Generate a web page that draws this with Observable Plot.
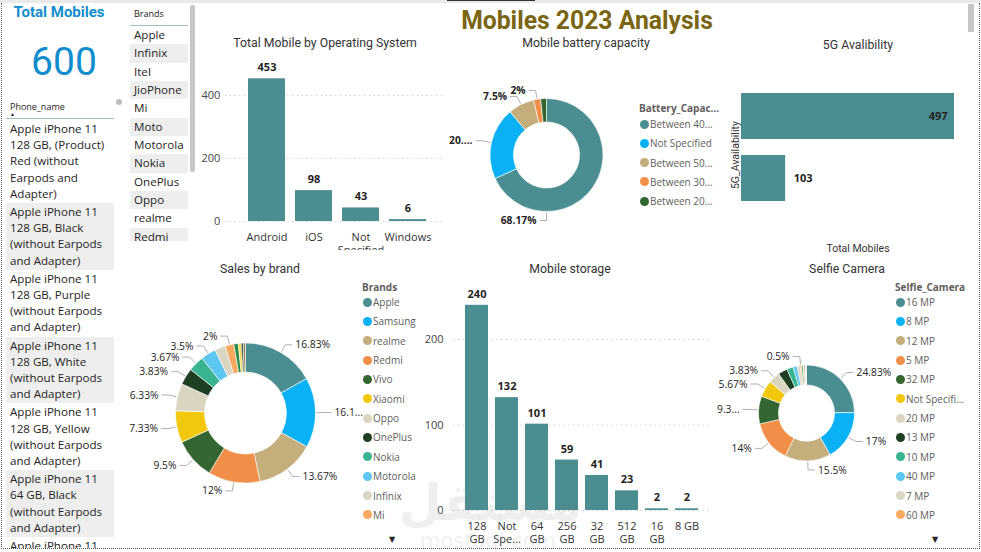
<!DOCTYPE html>
<html><head><meta charset="utf-8">
<script src="https://cdn.jsdelivr.net/npm/d3@7"></script>
<script src="https://cdn.jsdelivr.net/npm/@observablehq/plot@0.6"></script>
<style>
html,body{margin:0;padding:0;background:#fff;}
#page{position:relative;width:981px;height:552px;overflow:hidden;background:#fff;}
#page svg{background:transparent !important;overflow:visible;}
</style></head>
<body><div id="page"></div>
<script>
// ---------------- DATA ----------------
const totalMobiles = 600;
const phoneNames = [
  "Apple iPhone 11 128 GB, (Product) Red (without Earpods and Adapter)",
  "Apple iPhone 11 128 GB, Black (without Earpods and Adapter)",
  "Apple iPhone 11 128 GB, Purple (without Earpods and Adapter)",
  "Apple iPhone 11 128 GB, White (without Earpods and Adapter)",
  "Apple iPhone 11 128 GB, Yellow (without Earpods and Adapter)",
  "Apple iPhone 11 64 GB, Black (without Earpods and Adapter)",
  "Apple iPhone 11 64 GB, Purple (without Earpods and Adapter)"
];
const slicerBrands = ["Apple","Infinix","Itel","JioPhone","Mi","Moto","Motorola","Nokia","OnePlus","Oppo","realme","Redmi","Samsung"];

const osNames = ["Android","iOS","Not Specified","Windows"];
const osTickLabels = ["Android","iOS","Not\nSpecified","Windows"];
const osCounts = [453, 98, 43, 6];

const batteryNames = ["Between 4000-4999 mAh","Not Specified","Between 5000-5999 mAh","Between 3000-3999 mAh","Between 2000-2999 mAh"];
const batteryCounts = [409, 124, 45, 12, 10];
const batteryLabelled = ["Between 4000-4999 mAh","Not Specified","Between 5000-5999 mAh","Between 3000-3999 mAh"];

const g5Names = ["Yes","No"];
const g5Counts = [497, 103];

const brandNames = ["Apple","Samsung","realme","Redmi","Vivo","Xiaomi","Oppo","OnePlus","Nokia","Motorola","Infinix","Mi","Moto","Tecno","Itel","JioPhone"];
const brandCounts = [101, 97, 82, 72, 57, 44, 38, 23, 22, 21, 15, 12, 6, 4, 3, 3];
const brandLabelled = ["Apple","Samsung","realme","Redmi","Vivo","Xiaomi","Oppo","OnePlus","Nokia","Motorola","Mi"];

const storageNames = ["128 GB","Not Specified","64 GB","256 GB","32 GB","512 GB","16 GB","8 GB"];
const storageTickLabels = ["128\nGB","Not\nSpe...","64\nGB","256\nGB","32\nGB","512\nGB","16\nGB","8 GB"];
const storageCounts = [240, 132, 101, 59, 41, 23, 2, 2];

const selfieNames = ["16 MP","8 MP","12 MP","5 MP","32 MP","Not Specified","20 MP","13 MP","10 MP","40 MP","7 MP","60 MP","48 MP","2 MP","24 MP","44 MP","25 MP","50 MP"];
const selfieCounts = [149, 102, 93, 84, 56, 34, 23, 19, 13, 8, 6, 3, 3, 2, 2, 1, 1, 1];
const selfieLabelled = ["16 MP","8 MP","12 MP","5 MP","32 MP","Not Specified","20 MP","60 MP"];

const palette = ["#4A8E92","#0AB2F5","#C4AF7C","#F18F49","#336630","#F2C80F","#D9D5C1","#1F3F23","#38B490","#5CC7F0","#DAD6C4","#F9A85F","#28894A","#F5D84A","#2E4B30","#8E7E52","#A1D6E8","#E46E3C"];
const barColor = "#4A8E92";

// ---------------- HELPERS ----------------
const SEGOE = '"Segoe UI","Open Sans",sans-serif';
const DIN = '"DIN",Roboto,sans-serif';
const page = document.getElementById("page");
const ctx = document.createElement("canvas").getContext("2d");
function fit(text, font, maxW) {
  ctx.font = font;
  if (ctx.measureText(text).width <= maxW) return text;
  let s = text;
  while (s.length > 1 && ctx.measureText(s + "...").width > maxW) s = s.slice(0, -1);
  return s + "...";
}
function div(style, text, parent = page) {
  const e = document.createElement("div");
  Object.assign(e.style, {position: "absolute"}, style);
  if (text != null) e.textContent = text;
  parent.appendChild(e);
  return e;
}
function txt(text, x, y, {font = SEGOE, size = 12, weight = "normal", color = "#252423", anchor = "middle", extra = {}} = {}) {
  return div(Object.assign({left: x + "px", top: y + "px", whiteSpace: "nowrap", fontFamily: font, fontSize: size + "px",
    fontWeight: weight, color, lineHeight: "1",
    transform: anchor === "middle" ? "translate(-50%,-50%)" : anchor === "end" ? "translate(-100%,-50%)" : "translate(0,-50%)"}, extra), text);
}
function placeSvg(node, left, top, clipH) {
  const d = div({left: left + "px", top: top + "px"});
  if (clipH) { d.style.height = clipH + "px"; d.style.overflow = "hidden"; }
  d.appendChild(node);
  return d;
}
const plotStyle = {background: "transparent", fontFamily: SEGOE, fontSize: "11px", color: "#444", overflow: "visible"};

// ---------------- FRAME ----------------
div({left: "0px", top: "0px", width: "981px", height: "3px", background: "#e9e9e9"});
div({left: "447px", top: "0px", width: "88px", height: "1px", background: "#333"});
div({left: "1px", top: "3px", width: "977px", height: "545px", borderLeft: "1px dotted #555", borderRight: "1px dotted #555", borderBottom: "1px dotted #555"});
div({left: "968px", top: "4px", width: "6px", height: "28px", background: "#c8c6c4"});

// ---------------- CARD ----------------
txt("Total Mobiles", 59, 12, {font: DIN, size: 15, weight: "bold", color: "#118DCE"});
txt(String(totalMobiles), 64, 62, {font: DIN, size: 39, color: "#118DCE"});

// ---------------- PHONE TABLE ----------------
txt("Phone_name", 10, 106, {size: 9, anchor: "start", color: "#252423"});
txt("▲", 10, 114, {size: 5, anchor: "start", color: "#252423"});
div({left: "116px", top: "99px", width: "6px", height: "6px", borderRadius: "50%", background: "#bdbdbd"});
div({left: "6px", top: "118px", width: "108px", height: "1px", background: "#9dbfc5"});
const table = div({left: "6px", top: "120px", width: "108px", height: "428px", overflow: "hidden"});
phoneNames.forEach((n, i) => {
  const r = document.createElement("div");
  Object.assign(r.style, {background: i % 2 ? "#EEEEEE" : "transparent", padding: "1px 4px 1px 4px", fontSize: "11.6px",
    lineHeight: "16.2px", color: "#252423", fontFamily: SEGOE});
  r.textContent = n;
  table.appendChild(r);
});

// ---------------- BRAND SLICER ----------------
txt("Brands", 134, 13, {size: 9, anchor: "start"});
div({left: "130px", top: "25px", width: "58px", height: "1px", background: "#9dbfc5"});
const slicer = div({left: "130px", top: "26px", width: "58px", height: "215px", overflow: "hidden"});
slicerBrands.forEach((n, i) => {
  const r = document.createElement("div");
  Object.assign(r.style, {background: i % 2 ? "#EEEEEE" : "transparent", paddingLeft: "4px", height: "18.35px", lineHeight: "18.35px",
    fontSize: "11.6px", color: "#252423", fontFamily: SEGOE, whiteSpace: "nowrap"});
  r.textContent = n;
  slicer.appendChild(r);
});
div({left: "190px", top: "5px", width: "5px", height: "167px", background: "#c8c6c4", borderRadius: "2px"});

// ---------------- TITLES ----------------
txt("Mobiles 2023 Analysis", 587, 20, {font: DIN, size: 26, weight: "bold", color: "#7A6512",
  extra: {transform: "translate(-50%,-50%) scaleX(0.95)"}});
const titleOpts = {font: DIN, size: 12.3, color: "#333"};
txt("Total Mobile by Operating System", 325, 43, titleOpts);
txt("Mobile battery capacity", 586, 43, titleOpts);
txt("5G Avalibility", 858, 45, titleOpts);
txt("Sales by brand", 260, 269, titleOpts);
txt("Mobile storage", 570, 269, titleOpts);
txt("Selfie Camera", 847, 269, titleOpts);

// ---------------- VERTICAL BAR CHART ----------------
function columnChart({names, ticks, counts, left, top, width, height, mL, mR, mT, mB, yMax, yTicks, pad, gridL, gridR, tickPadding, clipH}) {
  const data = names.map((name, i) => ({name, count: counts[i], tick: ticks[i]}));
  const p = Plot.plot({
    width, height, marginLeft: mL, marginRight: mR, marginTop: mT, marginBottom: mB,
    style: plotStyle,
    x: {domain: names, paddingInner: 0.22, paddingOuter: pad, axis: null},
    y: {domain: [0, yMax], ticks: yTicks, tickSize: 0, tickPadding, label: null},
    marks: [
      Plot.ruleY(yTicks, {stroke: "#c8c8c8", strokeDasharray: "1.2,3.6", insetLeft: -gridL, insetRight: -gridR}),
      Plot.barY(data, {x: "name", y: "count", fill: barColor}),
      Plot.text(data, {x: "name", y: "count", text: d => String(d.count), dy: -11, fontWeight: "bold", fontSize: 11, fill: "#252423"}),
      Plot.text(data, {x: "name", y: 0, text: "tick", dy: 10, lineAnchor: "top", lineHeight: 1.18, fontSize: 11, fill: "#333"})
    ]
  });
  placeSvg(p, left, top, clipH);
}
columnChart({names: osNames, ticks: osTickLabels, counts: osCounts, left: 200, top: 50, width: 250, height: 205,
  mL: 41.8, mR: 18.2, mT: 13.5, mB: 34, yMax: 500, yTicks: [0, 200, 400], pad: 0.11, gridL: 17, gridR: 13, tickPadding: 22, clipH: 200});
columnChart({names: storageNames, ticks: storageTickLabels, counts: storageCounts, left: 420, top: 280, width: 295, height: 270,
  mL: 42, mR: 13, mT: 7.7, mB: 40, yMax: 260, yTicks: [0, 100, 200], pad: 0.1, gridL: 9, gridR: 8, tickPadding: 19});

// ---------------- 5G HORIZONTAL BARS ----------------
{
  const data = g5Names.map((name, i) => ({name, count: g5Counts[i]}));
  const max = d3.max(g5Counts);
  const p = Plot.plot({
    width: 250, height: 205, marginLeft: 16, marginRight: 21, marginTop: 25.6, marginBottom: 45.4,
    style: plotStyle,
    x: {domain: [0, max], axis: null},
    y: {domain: g5Names, paddingInner: 0.254, paddingOuter: 0.2, axis: null},
    marks: [
      Plot.barX(data, {x: "count", y: "name", fill: barColor}),
      Plot.text(data.filter(d => d.count > max / 2), {x: "count", y: "name", text: d => String(d.count), textAnchor: "end", dx: -7, fontWeight: "bold", fontSize: 11, fill: "#252423"}),
      Plot.text(data.filter(d => d.count <= max / 2), {x: "count", y: "name", text: d => String(d.count), textAnchor: "start", dx: 8, fontWeight: "bold", fontSize: 11, fill: "#252423"}),
      Plot.text(["5G_Availability"], {frameAnchor: "left", textAnchor: "middle", text: d => d, rotate: -90, dx: -6, dy: 7, fontSize: 10.5, fill: "#333", fontFamily: DIN}),
      Plot.text(["Total Mobiles"], {frameAnchor: "bottom", textAnchor: "middle", text: d => d, dx: 10, dy: 37, fontSize: 10.5, fill: "#333", fontFamily: DIN})
    ]
  });
  placeSvg(p, 725, 55);
}

// ---------------- DONUTS ----------------
const LABEL_SIZE = 10.3;
function donutChart({names, counts, labelled, left, top, width, height, cx, cy, rOuter, labelWeight, minX, maxX}) {
  const rInner = rOuter * 0.585;
  const color = Plot.scale({color: {type: "ordinal", domain: names, range: palette}});
  const data = names.map((name, i) => ({name, count: counts[i], shown: labelled.includes(name)}));
  const total = d3.sum(counts);
  const fmt = v => (+(v / total * 100).toFixed(2)).toString() + "%";
  const render = () => {
    const g = d3.create("svg:g");
    const arcs = d3.pie().sort(null).value(d => d.count)(data);
    const arcGen = d3.arc().innerRadius(rInner).outerRadius(rOuter);
    g.append("g").attr("transform", `translate(${cx},${cy})`)
      .selectAll("path").data(arcs).join("path")
      .attr("d", arcGen).attr("fill", d => color.apply(d.data.name))
      .attr("stroke", "#fff").attr("stroke-width", 0.6);
    const font = `${labelWeight} ${LABEL_SIZE}px ${SEGOE}`;
    const place = (ang, side) => {
      const p0 = [cx + (rOuter + 1) * Math.sin(ang), cy - (rOuter + 1) * Math.cos(ang)];
      const p1 = [cx + (rOuter + 9) * Math.sin(ang), cy - (rOuter + 9) * Math.cos(ang)];
      const p2 = [p1[0] + side * 7, p1[1]];
      return {p0, p1, p2, tx: p2[0] + side * 3};
    };
    for (const a of arcs) {
      if (!a.data.shown) continue;
      let ang = (a.startAngle + a.endAngle) / 2;
      let side = ang < Math.PI ? 1 : -1;
      let P = place(ang, side);
      let label = fmt(a.data.count);
      ctx.font = font;
      const w = ctx.measureText(label).width;
      if (side === 1 && P.tx + w > maxX && a.startAngle <= Math.PI && a.endAngle >= Math.PI) {
        ang = Math.PI; side = -1; P = place(ang, side);
      }
      const avail = side === 1 ? maxX - P.tx : P.tx - minX;
      label = fit(label, font, avail);
      g.append("polyline").attr("points", [P.p0, P.p1, P.p2].map(p => p.join(",")).join(" "))
        .attr("fill", "none").attr("stroke", "#b3b0ad").attr("stroke-width", 1);
      g.append("text").attr("x", P.tx).attr("y", P.p1[1]).attr("dy", "0.35em")
        .attr("text-anchor", side === 1 ? "start" : "end")
        .attr("font-size", LABEL_SIZE).attr("font-weight", labelWeight).attr("fill", "#252423")
        .attr("font-family", SEGOE).text(label);
    }
    return g.node();
  };
  const p = Plot.plot({width, height, margin: 0, style: plotStyle, marks: [render]});
  placeSvg(p, left, top);
  return color;
}
function legend({x, y, title, titleMaxW, names, color, first, step, maxW, maxY}) {
  const tf = `bold 10px ${SEGOE}`;
  txt(fit(title, tf, titleMaxW), x, y, {size: 10, weight: "bold", color: "#605E5C", anchor: "start"});
  names.forEach((n, i) => {
    const yy = y + first + i * step;
    if (yy > maxY) return;
    div({left: (x + 0.5) + "px", top: (yy - 4.5) + "px", width: "9px", height: "9px", borderRadius: "50%", background: color.apply(n)});
    txt(fit(n, `10px ${SEGOE}`, maxW), x + 11, yy, {size: 10, color: "#605E5C", anchor: "start"});
  });
}

const batColor = donutChart({names: batteryNames, counts: batteryCounts, labelled: batteryLabelled,
  left: 440, top: 60, width: 200, height: 180, cx: 106.5, cy: 95, rOuter: 56.5, labelWeight: "bold", minX: 7, maxX: 195});
legend({x: 639, y: 108, title: "Battery_Capacity", titleMaxW: 82, names: batteryNames, color: batColor, first: 16, step: 19.25, maxW: 64, maxY: 530});

const brandColor = donutChart({names: brandNames, counts: brandCounts, labelled: brandLabelled,
  left: 120, top: 280, width: 245, height: 250, cx: 125.5, cy: 133, rOuter: 70, labelWeight: "normal", minX: 2, maxX: 244});
legend({x: 362, y: 287, title: "Brands", titleMaxW: 80, names: brandNames, color: brandColor, first: 15, step: 19.35, maxY: 520, maxW: 70});

const selfieColor = donutChart({names: selfieNames, counts: selfieCounts, labelled: selfieLabelled,
  left: 700, top: 280, width: 190, height: 250, cx: 106.5, cy: 133, rOuter: 48, labelWeight: "normal", minX: 16, maxX: 192});
legend({x: 895, y: 287, title: "Selfie_Camera", titleMaxW: 80, names: selfieNames, color: selfieColor, first: 15, step: 19.35, maxY: 520, maxW: 59});

txt("▼", 392, 540, {size: 8, color: "#252423", font: '"DejaVu Sans",sans-serif'});
txt("▼", 935, 540, {size: 8, color: "#252423", font: '"DejaVu Sans",sans-serif'});

// watermark
txt("مستقل", 490, 503, {size: 50, weight: "bold", color: "rgba(120,120,120,0.12)", font: '"DejaVu Sans",sans-serif'});
txt("mostaql.com", 488, 541, {size: 21, color: "rgba(120,120,120,0.12)", font: '"DejaVu Sans",sans-serif'});
</script>
</body></html>
